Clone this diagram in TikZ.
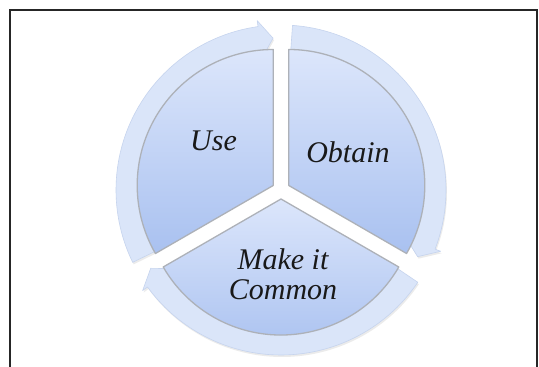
\documentclass[tikz,border=0pt]{standalone}
\usepackage{fontspec}
\setmainfont{Liberation Serif}
\definecolor{ringfill}{HTML}{DAE5F9}
\definecolor{ringedge}{HTML}{C6D4EE}
\definecolor{sectop}{HTML}{DCE6FB}
\definecolor{secbot}{HTML}{A9C1F0}
\definecolor{secedge}{HTML}{ADB1B8}
\newcommand{\ringarrowpath}[3][]{%
  \path[ringarrow,#1] (#2:165) arc[start angle=#2, end angle={#3+5}, radius=165]
    -- ({#3+5}:171) -- (#3:152) -- ({#3+5}:134) -- ({#3+5}:138)
    arc[start angle={#3+5}, end angle=#2, radius=138] -- cycle;}
\begin{document}
\begin{tikzpicture}[x=1pt,y=1pt,
  ringarrow/.style={fill=ringfill, draw=ringedge, line width=0.6pt, line join=round},
  ringshadow/.style={fill=black, draw=none, opacity=0.08, shift={(1,-2)}},
  sector/.style={top color=sectop, bottom color=secbot, draw=secedge, line width=1.3pt, line join=round},
  lbl/.style={font=\fontsize{30}{30}\selectfont\itshape, text=black!90, inner sep=0pt, align=center, anchor=base}]
\useasboundingbox (0,0) rectangle (539,367);
\fill[white] (0,0) rectangle (539,367);
% frame
\draw[black!85, line width=1.3pt] (10,-5) -- (10,357) -- (537,357) -- (537,-5);
\begin{scope}[shift={(281,177)}]
  % soft shadows of the ring arrows
  \ringarrowpath[ringshadow]{206}{93}
  \ringarrowpath[ringshadow]{86}{-26}
  \ringarrowpath[ringshadow]{-34}{-149}
  % ring arrows
  \ringarrowpath{206}{93}
  \ringarrowpath{86}{-26}
  \ringarrowpath{-34}{-149}
  % pie sectors
  \path[sector] (150:9) -- ++(90:136) arc[start angle=90, end angle=210, radius=136] -- cycle;
  \path[sector] (30:9) -- ++(90:136) arc[start angle=90, end angle=-30, radius=136] -- cycle;
  \path[sector] (-90:9) -- ++(-30:136) arc[start angle=-30, end angle=-150, radius=136] -- cycle;
\end{scope}
\node[lbl] (use) at (213.5,216) {Use};
\node[lbl] (obtain) at (348,204) {Obtain};
\node[lbl] (common) at (283,67) {Make it\\Common};
\end{tikzpicture}
\end{document}
